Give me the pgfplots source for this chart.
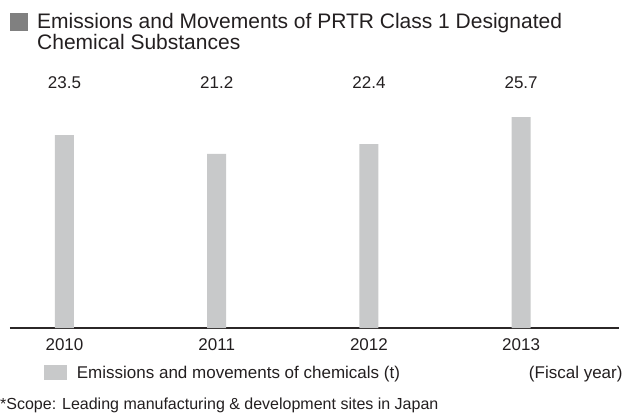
\documentclass[border=0pt]{standalone}
\usepackage{pgfplots}
\pgfplotsset{compat=1.18}
\usepackage{fontspec}
\setmainfont{Liberation Sans}
\definecolor{bargray}{HTML}{C8C9CA}
\definecolor{titlegray}{HTML}{808080}
\definecolor{axisdark}{HTML}{2B2727}
\definecolor{txt}{HTML}{231F20}

\begin{document}
\begin{tikzpicture}[x=1pt, y=1pt]
% invisible frame fixing the page size
\path (-10,-84) rectangle (616,328);
\begin{axis}[
  scale only axis,
  width=609pt, height=262.7pt,
  xmin=-0.358, xmax=3.643,
  ymin=0, ymax=32,
  axis x line*=bottom, axis y line=none,
  x axis line style={-, draw=axisdark, line width=1.2pt},
  xtick={0,1,2,3},
  xticklabels={2010,2011,2012,2013},
  major tick length=0pt,
  xticklabel style={font=\fontsize{17}{20}\selectfont, text=txt, inner sep=0pt, anchor=north, yshift=-10pt},
  ytick=\empty,
  clip=false,
]
% bars
\addplot[ybar, bar width=19pt, fill=bargray, draw=none]
  coordinates {(0,23.5) (1,21.2) (2,22.4) (3,25.7)};
% value labels along the top row
\addplot[draw=none, mark=none,
  nodes near coords, point meta=explicit,
  nodes near coords style={anchor=center, inner sep=0pt, font=\fontsize{17}{20}\selectfont, text=txt,
    /pgf/number format/.cd, fixed, fixed zerofill, precision=1, assume math mode=true}]
  coordinates {(0,29.9)[23.5] (1,29.9)[21.2] (2,29.9)[22.4] (3,29.9)[25.7]};
\end{axis}
% title
\fill[titlegray] (0,297) rectangle (18,315);
\node[anchor=base west, inner sep=0pt, text=txt, font=\fontsize{21}{24}\selectfont] at (27,299)
  {Emissions and Movements of PRTR Class 1 Designated};
\node[anchor=base west, inner sep=0pt, text=txt, font=\fontsize{21}{24}\selectfont] at (27,278)
  {Chemical Substances};
% legend
\fill[bargray] (34,-52) rectangle (57,-37);
\node[anchor=base west, inner sep=0pt, text=txt, font=\fontsize{17}{20}\selectfont] at (66.7,-50.3)
  {Emissions and movements of chemicals (t)};
\node[anchor=base east, inner sep=0pt, text=txt, font=\fontsize{17}{20}\selectfont] at (612.7,-50.3)
  {(Fiscal year)};
% footnote
\node[anchor=base west, inner sep=0pt, text=txt, font=\fontsize{16}{19}\selectfont] at (-10,-81.3)
  {*Scope: Leading manufacturing \& development sites in Japan};
\end{tikzpicture}
\end{document}
